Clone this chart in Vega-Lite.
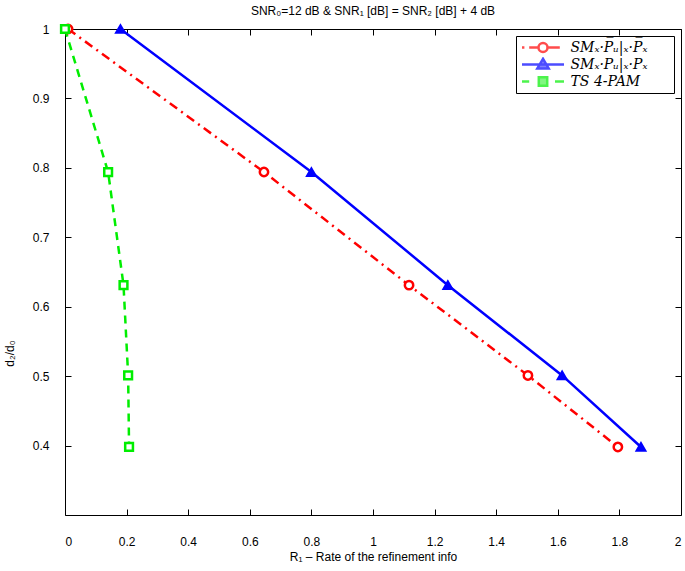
{
  "$schema": "https://vega.github.io/schema/vega-lite/v6.json",
  "width": 616,
  "height": 486,
  "autosize": "none",
  "padding": {"left": 65, "top": 29, "right": 4, "bottom": 56},
  "background": "white",
  "title": {"text": "SNR₀=12 dB & SNR₁ [dB] = SNR₂ [dB] + 4 dB", "font": "Liberation Sans", "fontSize": 12, "fontWeight": "normal", "color": "black", "offset": 2, "anchor": "middle"},
  "config": {
    "view": {"stroke": "black", "strokeWidth": 1},
    "axis": {"grid": false, "domainColor": "black", "tickColor": "black", "labelColor": "black", "titleColor": "black", "labelFont": "Liberation Sans", "labelFontSize": 12, "titleFont": "Liberation Sans", "titleFontSize": 12, "titleFontWeight": "normal", "tickSize": -6},
    "legend": {"strokeColor": "black", "fillColor": "white", "padding": 4, "labelFont": "DejaVu Serif", "labelFontStyle": "italic", "labelFontSize": 14, "labelColor": "black", "symbolSize": 144, "symbolStrokeWidth": 2.5, "rowPadding": 2, "clipHeight": 15, "symbolOffset": 15.5, "labelOffset": 20}
  },
  "data": {"values": [
    {"k": "A", "x": 0.01, "y": 1},
    {"k": "A", "x": 0.646, "y": 0.794},
    {"k": "A", "x": 1.117, "y": 0.631},
    {"k": "A", "x": 1.503, "y": 0.501},
    {"k": "A", "x": 1.795, "y": 0.398},
    {"k": "B", "x": 0.18, "y": 1},
    {"k": "B", "x": 0.8, "y": 0.794},
    {"k": "B", "x": 1.243, "y": 0.631},
    {"k": "B", "x": 1.614, "y": 0.501},
    {"k": "B", "x": 1.87, "y": 0.398},
    {"k": "C", "x": 0, "y": 1},
    {"k": "C", "x": 0.14, "y": 0.794},
    {"k": "C", "x": 0.19, "y": 0.631},
    {"k": "C", "x": 0.205, "y": 0.501},
    {"k": "C", "x": 0.208, "y": 0.398}
  ]},
  "resolve": {"axis": {"x": "independent", "y": "independent"}},
  "layer": [
    {
      "transform": [{"filter": "datum.k == 'A'"}],
      "mark": {"type": "line", "strokeWidth": 2.5, "stroke": "#ff0000", "strokeDash": [9, 5, 2, 5]},
      "encoding": {
        "x": {"field": "x", "type": "quantitative", "scale": {"domain": [0, 2], "nice": false, "zero": false}, "axis": {"orient": "bottom", "values": [0, 0.2, 0.4, 0.6, 0.8, 1, 1.2, 1.4, 1.6, 1.8, 2], "format": "~g", "title": "R₁ – Rate of the refinement info", "domain": false, "labelPadding": 27, "titlePadding": 4}},
        "y": {"field": "y", "type": "quantitative", "scale": {"domain": [0.3, 1], "nice": false, "zero": false}, "axis": {"orient": "left", "values": [0.4, 0.5, 0.6, 0.7, 0.8, 0.9, 1], "format": "~g", "title": "d₂/d₀", "domain": false, "labelPadding": 22, "titlePadding": 16, "titleY": 324}}
      }
    },
    {
      "transform": [{"filter": "datum.k == 'B'"}],
      "mark": {"type": "line", "strokeWidth": 2.5, "stroke": "#0000ff"},
      "encoding": {
        "x": {"field": "x", "type": "quantitative", "axis": null},
        "y": {"field": "y", "type": "quantitative", "axis": null}
      }
    },
    {
      "transform": [{"filter": "datum.k == 'C'"}],
      "mark": {"type": "line", "strokeWidth": 2.5, "stroke": "#00ee00", "strokeDash": [8, 6]},
      "encoding": {
        "x": {"field": "x", "type": "quantitative", "axis": null},
        "y": {"field": "y", "type": "quantitative", "axis": null}
      }
    },
    {
      "transform": [{"filter": "datum.k == 'A'"}],
      "mark": {"type": "point", "shape": "circle", "filled": true, "fill": "#ffffff", "stroke": "#ff0000", "size": 70, "strokeWidth": 2.5, "opacity": 1},
      "encoding": {
        "x": {"field": "x", "type": "quantitative", "axis": {"orient": "top", "values": [0, 0.2, 0.4, 0.6, 0.8, 1, 1.2, 1.4, 1.6, 1.8, 2], "labels": false, "title": null, "domain": false}},
        "y": {"field": "y", "type": "quantitative", "axis": {"orient": "right", "values": [0.4, 0.5, 0.6, 0.7, 0.8, 0.9, 1], "labels": false, "title": null, "domain": false}}
      }
    },
    {
      "transform": [{"filter": "datum.k == 'B'"}],
      "mark": {"type": "point", "shape": "triangle-up", "filled": true, "fill": "#0000ff", "stroke": "#0000ff", "size": 80, "strokeWidth": 2, "opacity": 1},
      "encoding": {
        "x": {"field": "x", "type": "quantitative", "axis": null},
        "y": {"field": "y", "type": "quantitative", "axis": null}
      }
    },
    {
      "transform": [{"filter": "datum.k == 'C'"}],
      "mark": {"type": "point", "shape": "square", "filled": true, "fill": "#ffffff", "stroke": "#00ee00", "size": 60, "strokeWidth": 2.5, "opacity": 1},
      "encoding": {
        "x": {"field": "x", "type": "quantitative", "axis": null},
        "y": {"field": "y", "type": "quantitative", "axis": null}
      }
    },
    {
      "transform": [{"filter": "datum.k == 'legend-only'"}],
      "mark": {"type": "point", "filled": true, "strokeWidth": 2.5},
      "encoding": {
        "shape": {"field": "k", "type": "nominal", "scale": {"domain": ["A", "B", "C"], "range": [
          "M-3.5,0L-3.1,0M-2.3,0L-0.75,0M0.75,0A0.75,0.75 0 1,1 -0.75,0A0.75,0.75 0 1,1 0.75,0ZM0.75,0L2.8,0",
          "M-3.5,0L3.5,0M0,-0.95L-0.95,0.65L0.95,0.65Z",
          "M-3.5,0L-2.3,0M-0.7,-0.7L0.7,-0.7L0.7,0.7L-0.7,0.7ZM2,0L3.5,0"
        ]}, "legend": {"title": null, "orient": "top-right", "offset": 7, "labelExpr": "datum.label == 'A' ? 'SMₓ·P̅ᵤ|ₓ·P̅ₓ\u00a0\u00a0\u00a0\u00a0\u00a0\u200b' : datum.label == 'B' ? 'SMₓ·Pᵤ|ₓ·Pₓ' : 'TS 4-PAM'"}},
        "stroke": {"field": "k", "type": "nominal", "scale": {"domain": ["A", "B", "C"], "range": ["#ff0000", "#0000ff", "#00ee00"]}, "legend": {"title": null, "orient": "top-right", "offset": 7, "labelExpr": "datum.label == 'A' ? 'SMₓ·P̅ᵤ|ₓ·P̅ₓ\u00a0\u00a0\u00a0\u00a0\u00a0\u200b' : datum.label == 'B' ? 'SMₓ·Pᵤ|ₓ·Pₓ' : 'TS 4-PAM'"}},
        "fill": {"field": "k", "type": "nominal", "scale": {"domain": ["A", "B", "C"], "range": ["#ffffff", "#0000ff", "#00ee00"]}, "legend": {"title": null, "orient": "top-right", "offset": 7, "labelExpr": "datum.label == 'A' ? 'SMₓ·P̅ᵤ|ₓ·P̅ₓ\u00a0\u00a0\u00a0\u00a0\u00a0\u200b' : datum.label == 'B' ? 'SMₓ·Pᵤ|ₓ·Pₓ' : 'TS 4-PAM'"}}
      }
    }
  ]
}
